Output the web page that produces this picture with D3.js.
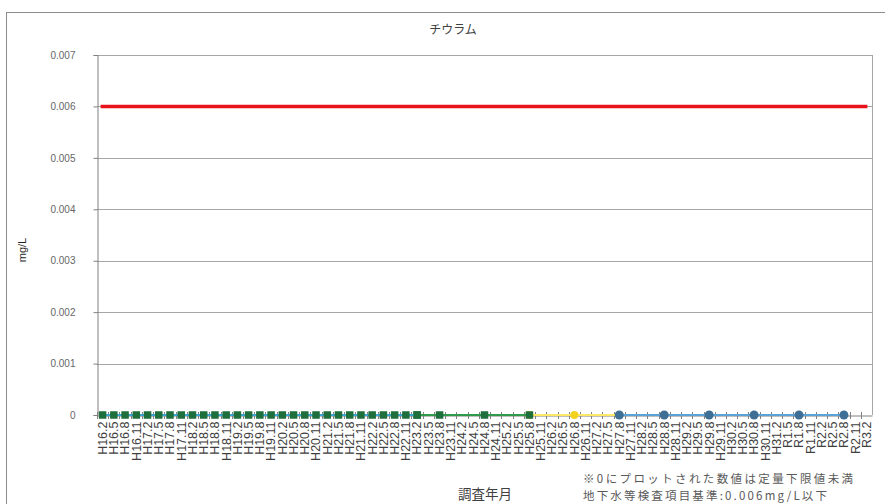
<!DOCTYPE html>
<html>
<head>
<meta charset="utf-8">
<script src="https://cdn.jsdelivr.net/npm/d3@7"></script>
<style>
  body { margin: 0; background: #fff; }
  svg { font-family: "Liberation Sans", "Noto Sans CJK JP", sans-serif; }
</style>
</head>
<body>
<div id="chart"></div>
<script>
// category labels (quarterly survey months)
var months = [
  "H16.2","H16.5","H16.8","H16.11","H17.2","H17.5","H17.8","H17.11",
  "H18.2","H18.5","H18.8","H18.11","H19.2","H19.5","H19.8","H19.11",
  "H20.2","H20.5","H20.8","H20.11","H21.2","H21.5","H21.8","H21.11",
  "H22.2","H22.5","H22.8","H22.11","H23.2","H23.5","H23.8","H23.11",
  "H24.2","H24.5","H24.8","H24.11","H25.2","H25.5","H25.8","H25.11",
  "H26.2","H26.5","H26.8","H26.11","H27.2","H27.5","H27.8","H27.11",
  "H28.2","H28.5","H28.8","H28.11","H29.2","H29.5","H29.8","H29.11",
  "H30.2","H30.5","H30.8","H30.11","H31.2","R1.5","R1.8","R1.11",
  "R2.2","R2.5","R2.8","R2.11","R3.2"
];

var yTicks = [0, 0.001, 0.002, 0.003, 0.004, 0.005, 0.006, 0.007];

// standard value line
var standardValue = 0.006;

// quarterly measurements (all below detection -> plotted at 0)
var denseDates = [
  "H16.2","H16.5","H16.8","H16.11","H17.2","H17.5","H17.8","H17.11",
  "H18.2","H18.5","H18.8","H18.11","H19.2","H19.5","H19.8","H19.11",
  "H20.2","H20.5","H20.8","H20.11","H21.2","H21.5","H21.8","H21.11",
  "H22.2","H22.5","H22.8","H22.11","H23.2"
];
var denseValues = [0,0,0,0,0,0,0,0,0,0,0,0,0,0,0,0,0,0,0,0,0,0,0,0,0,0,0,0,0];

var greenDates = ["H23.2","H23.8","H24.8","H25.8"];
var greenValues = [0, 0, 0, 0];

var yellowDates = ["H25.8","H26.8","H27.8"];
var yellowValues = [0, 0, 0];

var blueDates = ["H27.8","H28.8","H29.8","H30.8","R1.8","R2.8"];
var blueValues = [0, 0, 0, 0, 0, 0];

var W = 885, H = 504;
var plotL = 97, plotR = 872, plotT = 55, plotB = 415;

var svg = d3.select("#chart").append("svg")
  .attr("width", W)
  .attr("height", H);

// outer chart frame
svg.append("rect")
  .attr("x", 6.5).attr("y", 12.5)
  .attr("width", 900).attr("height", 520)
  .attr("fill", "#fff")
  .attr("stroke", "#8c8c8c")
  .attr("stroke-width", 1);

var x = d3.scaleBand()
  .domain(months)
  .range([plotL, plotR])
  .padding(0);

var y = d3.scaleLinear()
  .domain([0, 0.007])
  .range([plotB, plotT]);

function cx(d) { return x(d) + x.bandwidth() / 2; }

// gridlines
svg.append("g")
  .selectAll("line")
  .data(yTicks.slice(1))
  .enter().append("line")
    .attr("x1", plotL).attr("x2", plotR)
    .attr("y1", function(d) { return Math.round(y(d)) + 0.5; })
    .attr("y2", function(d) { return Math.round(y(d)) + 0.5; })
    .attr("stroke", "#a6a6a6")
    .attr("stroke-width", 1);

// plot border (right side)
svg.append("line")
  .attr("x1", plotR + 0.5).attr("x2", plotR + 0.5)
  .attr("y1", plotT).attr("y2", plotB)
  .attr("stroke", "#a6a6a6");

// y axis
var yAxis = d3.axisLeft(y)
  .tickValues(yTicks)
  .tickSize(4)
  .tickFormat(function(d) { return d === 0 ? "0" : d3.format(".3f")(d); });

var gy = svg.append("g")
  .attr("transform", "translate(" + (plotL + 0.5) + ",0)")
  .call(yAxis);
gy.select(".domain").attr("stroke", "#808080");
gy.selectAll(".tick line").attr("stroke", "#808080");
gy.selectAll(".tick text")
  .attr("fill", "#666")
  .attr("font-size", 10)
  .attr("x", -22);

// standard line
svg.append("line")
  .attr("x1", cx(months[0]) - 2)
  .attr("x2", cx(months[months.length - 1]) + 1)
  .attr("y1", y(standardValue))
  .attr("y2", y(standardValue))
  .attr("stroke", "#e8121b")
  .attr("stroke-width", 3.5);

// x axis
var xAxis = d3.axisBottom(x).tickSize(0);
var gx = svg.append("g")
  .attr("transform", "translate(0," + (plotB + 0.5) + ")")
  .call(xAxis);
gx.select(".domain").attr("stroke", "#808080");
gx.selectAll(".tick text")
  .attr("fill", "#404040")
  .attr("font-size", 12.5)
  .attr("transform", "rotate(-90)")
  .attr("text-anchor", "end")
  .attr("dy", "0.35em")
  .attr("x", -6)
  .attr("y", 0);

// category boundary tick marks
svg.append("g")
  .selectAll("line")
  .data(months)
  .enter().append("line")
    .attr("x1", function(d) { return Math.round(x(d)) + 0.5; })
    .attr("x2", function(d) { return Math.round(x(d)) + 0.5; })
    .attr("y1", plotB - 3)
    .attr("y2", plotB + 4)
    .attr("stroke", "#808080");

var line = d3.line()
  .x(function(d) { return cx(d[0]); })
  .y(function(d) { return y(d[1]); });

function drawSeries(dates, values, lineColor, markerColor, shape, size) {
  var pts = d3.zip(dates, values);
  svg.append("path")
    .datum(pts)
    .attr("d", line)
    .attr("fill", "none")
    .attr("stroke", lineColor)
    .attr("stroke-width", 2);
  if (shape === "square") {
    svg.append("g").selectAll("rect")
      .data(pts)
      .enter().append("rect")
        .attr("x", function(d) { return cx(d[0]) - size / 2; })
        .attr("y", function(d) { return y(d[1]) - size / 2; })
        .attr("width", size)
        .attr("height", size)
        .attr("fill", markerColor);
  } else {
    svg.append("g").selectAll("circle")
      .data(pts)
      .enter().append("circle")
        .attr("cx", function(d) { return cx(d[0]); })
        .attr("cy", function(d) { return y(d[1]); })
        .attr("r", size / 2)
        .attr("fill", markerColor);
  }
}

drawSeries(yellowDates, yellowValues, "#ffe866", "#f2d21e", "circle", 8);
drawSeries(greenDates, greenValues, "#2f9a4a", "#1e6f3c", "square", 7.5);
drawSeries(denseDates, denseValues, "#3aa6d6", "#1e6f3c", "square", 7.5);
drawSeries(blueDates, blueValues, "#5ba3d6", "#3f6f94", "circle", 9);

// title
svg.append("text")
  .attr("x", 453).attr("y", 34)
  .attr("text-anchor", "middle")
  .attr("font-size", 12)
  .attr("fill", "#404040")
  .style("font-family", "'Noto Sans CJK JP', sans-serif")
  .text("チウラム");

// y axis title
svg.append("text")
  .attr("transform", "translate(26,250) rotate(-90)")
  .attr("text-anchor", "middle")
  .attr("font-size", 11)
  .attr("fill", "#262626")
  .text("mg/L");

// x axis title
svg.append("text")
  .attr("x", 485).attr("y", 499)
  .attr("text-anchor", "middle")
  .attr("font-size", 13.5)
  .attr("fill", "#404040")
  .style("font-family", "'Noto Sans CJK JP', sans-serif")
  .text("調査年月");

// notes
var noteStyle = function(t) {
  return t.attr("font-size", 11.5)
    .attr("fill", "#595959")
    .attr("lengthAdjust", "spacing")
    .style("font-family", "'Noto Sans CJK JP', sans-serif");
};
noteStyle(svg.append("text"))
  .attr("x", 583).attr("y", 483)
  .attr("textLength", 270)
  .text("※0にプロットされた数値は定量下限値未満");
noteStyle(svg.append("text"))
  .attr("x", 583).attr("y", 500)
  .attr("textLength", 244)
  .text("地下水等検査項目基準:0.006mg/L以下");
</script>
</body>
</html>
